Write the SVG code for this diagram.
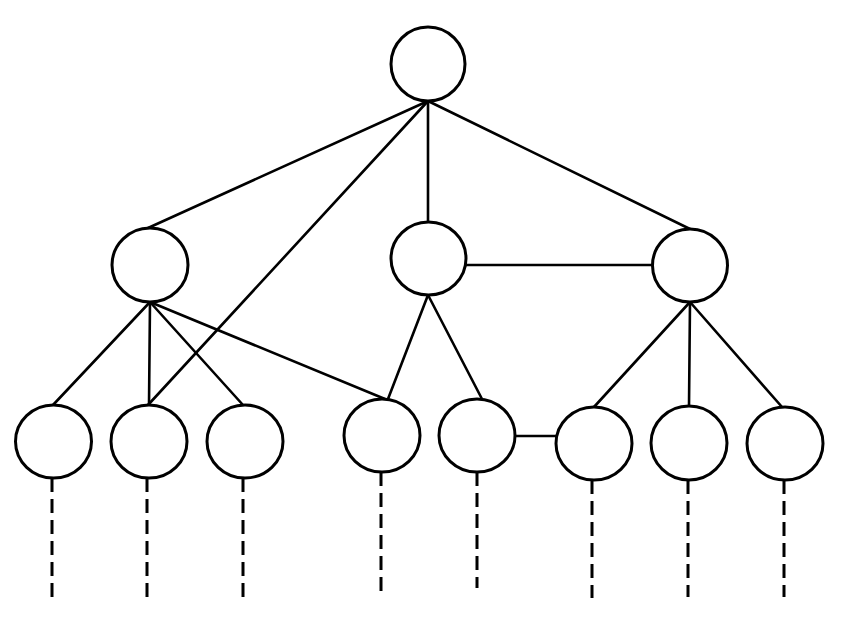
<svg xmlns="http://www.w3.org/2000/svg" width="845" height="627" viewBox="0 0 845 627">
<style>
.n{fill:#fff;stroke:#000;stroke-width:3}
.e{stroke:#000;stroke-width:2.6;fill:none;stroke-linecap:round}
.d{stroke:#000;stroke-width:3;fill:none;stroke-dasharray:14 7}
</style>
<rect width="845" height="627" fill="#fff"/>
<g id="connectors">
<line class="e" x1="428" y1="101" x2="148" y2="228"/>
<line class="e" x1="428" y1="101" x2="148" y2="405"/>
<line class="e" x1="428" y1="101" x2="428" y2="222"/>
<line class="e" x1="428" y1="101" x2="690" y2="229"/>
<line class="e" x1="150" y1="302" x2="53" y2="405"/>
<line class="e" x1="150" y1="302" x2="149" y2="405"/>
<line class="e" x1="150" y1="302" x2="243" y2="405"/>
<line class="e" x1="150" y1="302" x2="385" y2="399"/>
<line class="e" x1="428" y1="295" x2="388" y2="399"/>
<line class="e" x1="428" y1="295" x2="482" y2="399"/>
<line class="e" x1="466" y1="265" x2="653" y2="265"/>
<line class="e" x1="690" y1="302" x2="594" y2="407"/>
<line class="e" x1="690" y1="302" x2="689" y2="406"/>
<line class="e" x1="690" y1="302" x2="782" y2="407"/>
<line class="e" x1="515" y1="436" x2="556" y2="436"/>
<line class="d" x1="52" y1="478" x2="52" y2="597"/>
<line class="d" x1="147" y1="478" x2="147" y2="597"/>
<line class="d" x1="243" y1="478" x2="243" y2="597"/>
<line class="d" x1="381" y1="472" x2="381" y2="592"/>
<line class="d" x1="477" y1="472" x2="477" y2="588"/>
<line class="d" x1="592" y1="480" x2="592" y2="598"/>
<line class="d" x1="688" y1="480" x2="688" y2="597"/>
<line class="d" x1="784" y1="480" x2="784" y2="597"/>
</g>
<g id="root"><ellipse class="n" cx="428" cy="64" rx="37" ry="37"/></g>
<g id="l2a"><ellipse class="n" cx="150" cy="265" rx="38" ry="37"/></g>
<g id="l2b"><ellipse class="n" cx="428.5" cy="258.5" rx="37.5" ry="36.5"/></g>
<g id="l2c"><ellipse class="n" cx="690" cy="265.5" rx="37.5" ry="36.5"/></g>
<g id="l3a"><ellipse class="n" cx="53.5" cy="441.5" rx="38" ry="36.5"/></g>
<g id="l3b"><ellipse class="n" cx="149" cy="441.5" rx="38" ry="36.5"/></g>
<g id="l3c"><ellipse class="n" cx="245" cy="441.5" rx="38" ry="36.5"/></g>
<g id="l3d"><ellipse class="n" cx="382" cy="435.5" rx="38" ry="36.5"/></g>
<g id="l3e"><ellipse class="n" cx="477" cy="435.5" rx="38" ry="36.5"/></g>
<g id="l3f"><ellipse class="n" cx="594" cy="443.5" rx="38" ry="36.5"/></g>
<g id="l3g"><ellipse class="n" cx="689" cy="443" rx="38" ry="37"/></g>
<g id="l3h"><ellipse class="n" cx="785" cy="443.5" rx="38" ry="36.5"/></g>
</svg>
